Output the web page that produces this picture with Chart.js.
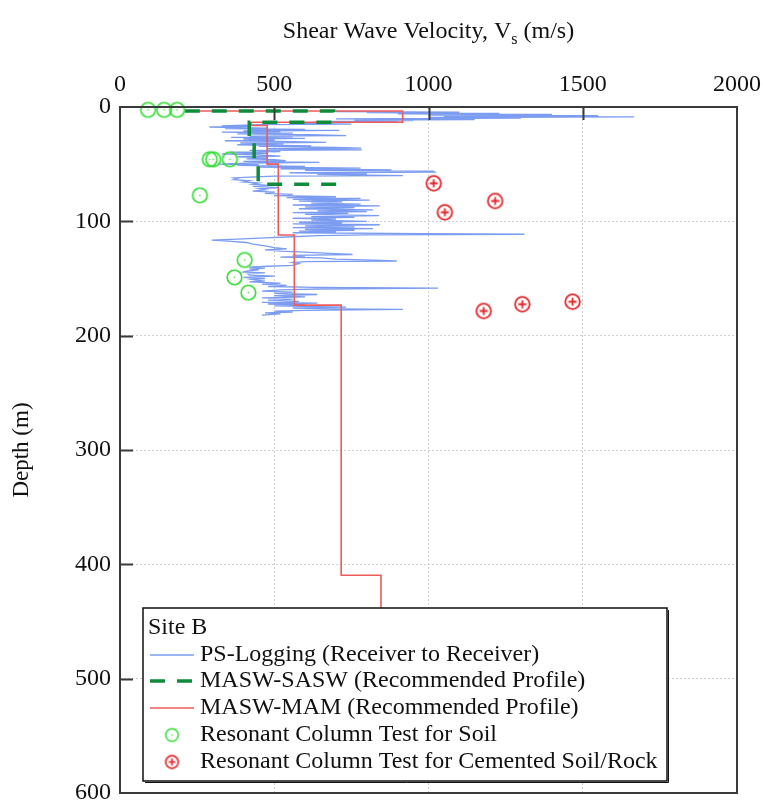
<!DOCTYPE html>
<html>
<head>
<meta charset="utf-8">
<script src="https://cdn.jsdelivr.net/npm/chart.js@4.4.0/dist/chart.umd.min.js"></script>
<style>
    html, body { margin: 0; padding: 0; background: #ffffff; }
    #wrap { width: 763px; height: 804px; position: relative; }
</style>
</head>
<body>
<div id="wrap"><canvas id="vsChart"></canvas></div>
<script>
// ---- data (depth in m, Vs in m/s) ----
const xTicks = [0, 500, 1000, 1500, 2000];
const yTicks = [0, 100, 200, 300, 400, 500, 600];

const psDepth = [4, 4.5, 5, 5.5, 6, 6.5, 7, 7.5, 8, 8.7, 9.2, 9.8, 10.3, 11, 11.5, 12, 12.5, 13, 13.5, 14.2,
    15, 15.5, 16.5, 17, 17.5, 18, 18.5, 19, 19.5, 20, 20.5, 21, 21.5, 22, 22.8, 23.5, 24.2, 25, 25.5, 26,
    26.5, 27.5, 28, 29, 29.5, 30.3, 31, 31.5, 32.3, 33, 34, 34.5, 35.3, 36, 36.5, 37.5, 38, 39, 39.5, 40.5,
    41, 42, 43, 43.5, 44.5, 45.3, 46, 47, 47.6, 48.5, 49, 50, 50.5, 51, 52, 52.5, 53.5, 54, 55, 55.5,
    56, 57, 57.5, 58.5, 59, 60, 60.5, 61.3, 62, 62.8, 63.6, 64.5, 65.5, 66.5, 67.5, 68.5, 69.5, 70.5, 71.5, 72.5,
    73.5, 74.5, 75.5, 76.5, 77.5, 78.5, 79.3, 80, 80.8, 81.5, 82.3, 83, 84, 85, 85.7, 86.5, 87.3, 88, 89, 90,
    90.8, 91.5, 92.3, 93, 94, 95, 95.8, 96.5, 97.3, 98, 99, 100, 100.8, 101.5, 102.3, 103, 104, 104.8, 105.5, 106.3,
    107, 107.8, 108.5, 109.3, 110, 110.8, 111.3, 111.8, 112.5, 113.5, 114.5, 115.5, 116.5, 117.3, 118.5, 120, 121.5, 123, 124, 125,
    126, 127, 128, 129, 129.7, 130.5, 131.3, 132, 133, 134, 134.7, 135.3, 136, 137, 138.5, 139.3, 140, 141, 141.8, 142.5,
    143.5, 144.3, 145, 146, 147, 148, 149, 150, 150.7, 151.5, 152.3, 153, 154, 155, 156, 157, 157.8, 158.5, 159.2, 160,
    161, 162, 163, 164, 165, 166, 167, 168, 169, 170, 170.8, 171.5, 172.3, 173, 174, 175, 175.8, 176.5, 177, 177.8,
    178.5, 179.3, 180, 181, 182];
const psVs = [700, 1100, 800, 1230, 900, 1400, 1000, 1550, 1050, 1667, 1000, 1300, 700, 1150, 760, 950, 680, 900, 640, 560,
    750, 450, 330, 420, 290, 380, 480, 340, 600, 420, 711, 400, 520, 330, 560, 380, 620, 733, 420, 560,
    360, 600, 400, 500, 340, 560, 668, 390, 530, 380, 620, 450, 700, 782, 480, 784, 420, 520, 360, 480,
    330, 450, 520, 380, 480, 410, 500, 537, 400, 646, 430, 320, 450, 380, 600, 450, 780, 520, 880, 600,
    1015, 1021, 550, 800, 640, 917, 500, 420, 369, 380, 369, 420, 400, 450, 430, 480, 430, 515, 450, 470,
    430, 500, 470, 560, 500, 700, 540, 780, 560, 809, 580, 720, 620, 780, 560, 842, 600, 760, 580, 820,
    640, 800, 560, 740, 600, 840, 620, 760, 560, 700, 620, 800, 580, 720, 560, 842, 600, 760, 560, 820,
    600, 760, 580, 700, 560, 980, 1311, 800, 640, 560, 470, 380, 297, 350, 410, 430, 470, 500, 540, 470,
    520, 600, 680, 754, 560, 600, 520, 650, 700, 820, 897, 600, 560, 580, 560, 480, 418, 470, 420, 450,
    410, 400, 470, 415, 420, 500, 400, 470, 425, 440, 470, 420, 520, 460, 540, 480, 640, 1031, 640, 520,
    460, 560, 500, 640, 500, 600, 460, 560, 480, 580, 460, 640, 480, 600, 500, 733, 560, 700, 917, 600,
    500, 560, 470, 520, 460];

const saswDepth = [3.5, 3.5, 13.3, 13.3, 30, 30, 50, 50, 67.5, 67.5];
const saswVs = [210, 692, 692, 419, 419, 435, 435, 448, 448, 717];

const mamDepth = [3.5, 3.5, 13.4, 13.4, 16.2, 16.2, 50, 50, 112, 112, 173.3, 173.3, 409.5, 409.5, 470];
const mamVs = [214, 916, 916, 425, 425, 477, 477, 513, 513, 565, 565, 717, 717, 846, 846];

const soilDepth = [2.5, 2.5, 2.5, 45.7, 45.7, 45.7, 77.2, 133.8, 149, 162.4];
const soilVs = [91, 143, 185, 291, 302, 356, 259, 404, 371, 416];

const rockDepth = [66.7, 82.2, 92.1, 178.4, 172.5, 170.3];
const rockVs = [1017, 1216, 1053, 1179, 1304, 1467];

const FONT = "'Liberation Serif', 'Times New Roman', serif";
const GREEN_DASH = '#0e8c3c';
const SOIL_GREEN = '#2fdc2f';
const ROCK_RED = '#e3262b';

function toPoints(vs, depth) {
    return depth.map((d, i) => ({ x: vs[i], y: d }));
}

// circle marker drawn once, handed to Chart.js as pointStyle
function makeMarker(color, withPlus, r, lw) {
    const size = Math.ceil(2 * r + lw + 2);
    const c = document.createElement('canvas');
    c.width = size;
    c.height = size;
    const g = c.getContext('2d');
    const m = size / 2;
    g.strokeStyle = color;
    g.fillStyle = color;
    g.lineWidth = lw;
    g.beginPath();
    g.arc(m, m, r, 0, Math.PI * 2);
    g.stroke();
    if (withPlus) {
        const a = r * 0.55;
        g.beginPath();
        g.moveTo(m - a, m); g.lineTo(m + a, m);
        g.moveTo(m, m - a); g.lineTo(m, m + a);
        g.stroke();
    } else {
        g.beginPath();
        g.arc(m, m, 0.8, 0, Math.PI * 2);
        g.fill();
    }
    return c;
}

const soilMarker = makeMarker(SOIL_GREEN, false, 7.3, 1.6);
const rockMarker = makeMarker(ROCK_RED, true, 7.3, 1.8);
const soilLegendMarker = makeMarker(SOIL_GREEN, false, 6.3, 1.5);
const rockLegendMarker = makeMarker(ROCK_RED, true, 6.3, 1.7);

// frame, inward ticks, titles and the boxed legend
const framePlugin = {
    id: 'frameAndLegend',
    afterDatasetsDraw(chart) {
        const ctx = chart.ctx;
        const area = chart.chartArea;
        const xs = chart.scales.x;
        const ys = chart.scales.y;
        ctx.save();

        // inward tick marks
        ctx.strokeStyle = '#3a3a3a';
        ctx.lineWidth = 2;
        ctx.beginPath();
        xTicks.slice(1, -1).forEach(v => {
            const px = Math.round(xs.getPixelForValue(v)) + 0.5;
            ctx.moveTo(px, area.top);
            ctx.lineTo(px, area.top + 13);
        });
        yTicks.slice(1, -1).forEach(v => {
            const py = Math.round(ys.getPixelForValue(v)) + 0.5;
            ctx.moveTo(area.left, py);
            ctx.lineTo(area.left + 13, py);
        });
        ctx.stroke();

        // plot frame
        ctx.lineWidth = 2;
        ctx.strokeRect(area.left, area.top, area.right - area.left, area.bottom - area.top);

        // legend box
        const lx = 143, ly = 608, lw = 524, lh = 173;
        ctx.fillStyle = '#ffffff';
        ctx.fillRect(lx, ly, lw, lh);
        ctx.strokeStyle = '#111111';
        ctx.lineWidth = 1.5;
        ctx.strokeRect(lx, ly, lw, lh);
        ctx.lineWidth = 1;
        ctx.beginPath();
        ctx.moveTo(lx + lw + 1.5, ly + 2);
        ctx.lineTo(lx + lw + 1.5, ly + lh + 1.5);
        ctx.lineTo(lx + 2, ly + lh + 1.5);
        ctx.stroke();

        ctx.fillStyle = '#111111';
        ctx.font = '24px ' + FONT;
        ctx.textBaseline = 'middle';
        ctx.textAlign = 'left';
        ctx.fillText('Site B', 148, 628);

        const rowY = [655, 681, 708, 735, 762];
        const sets = chart.data.datasets;
        sets.forEach((ds, i) => {
            const y = rowY[i];
            if (ds.showLine) {
                ctx.save();
                ctx.strokeStyle = ds.borderColor;
                ctx.lineWidth = ds.borderWidth;
                ctx.setLineDash(ds.borderDash || []);
                ctx.beginPath();
                ctx.moveTo(150, y);
                ctx.lineTo(194, y);
                ctx.stroke();
                ctx.restore();
            } else {
                const img = ds.legendMarker;
                ctx.drawImage(img, 172 - img.width / 2, y - img.height / 2);
            }
            ctx.fillStyle = '#111111';
            ctx.fillText(ds.label, 200, y);
        });
        ctx.restore();
    },
    afterDraw(chart) {
        const ctx = chart.ctx;
        const area = chart.chartArea;
        ctx.save();
        ctx.fillStyle = '#111111';
        ctx.textBaseline = 'middle';

        // top axis title with subscript
        const big = '24px ' + FONT;
        const small = '16px ' + FONT;
        const p1 = 'Shear Wave Velocity, V';
        const p2 = 's';
        const p3 = ' (m/s)';
        ctx.font = big;
        const w1 = ctx.measureText(p1).width;
        const w3 = ctx.measureText(p3).width;
        ctx.font = small;
        const w2 = ctx.measureText(p2).width;
        let x = (area.left + area.right) / 2 - (w1 + w2 + w3) / 2;
        const ty = 32;
        ctx.textAlign = 'left';
        ctx.font = big;
        ctx.fillText(p1, x, ty);
        x += w1;
        ctx.font = small;
        ctx.fillText(p2, x, ty + 8);
        x += w2;
        ctx.font = big;
        ctx.fillText(p3, x, ty);

        // left axis title
        ctx.translate(22, (area.top + area.bottom) / 2);
        ctx.rotate(-Math.PI / 2);
        ctx.textAlign = 'center';
        ctx.font = '23px ' + FONT;
        ctx.fillText('Depth (m)', 0, 0);
        ctx.restore();
    }
};

function renderVsProfileChart() {
    const ctx = document.getElementById('vsChart');

    window.vsChart = new Chart(ctx, {
        type: 'scatter',
        data: {
            datasets: [
                {
                    label: 'PS-Logging (Receiver to Receiver)',
                    data: toPoints(psVs, psDepth),
                    showLine: true,
                    borderColor: '#7b9cf0',
                    borderWidth: 1.3,
                    pointRadius: 0,
                    order: 5
                },
                {
                    label: 'MASW-SASW (Recommended Profile)',
                    data: toPoints(saswVs, saswDepth),
                    showLine: true,
                    borderColor: GREEN_DASH,
                    borderWidth: 3.5,
                    borderDash: [15, 12],
                    pointRadius: 0,
                    order: 3
                },
                {
                    label: 'MASW-MAM (Recommended Profile)',
                    data: toPoints(mamVs, mamDepth),
                    showLine: true,
                    borderColor: '#f05a5a',
                    borderWidth: 1.6,
                    pointRadius: 0,
                    order: 4
                },
                {
                    label: 'Resonant Column Test for Soil',
                    data: toPoints(soilVs, soilDepth),
                    showLine: false,
                    pointStyle: soilMarker,
                    legendMarker: soilLegendMarker,
                    pointRadius: 8,
                    clip: false,
                    order: 2
                },
                {
                    label: 'Resonant Column Test for Cemented Soil/Rock',
                    data: toPoints(rockVs, rockDepth),
                    showLine: false,
                    pointStyle: rockMarker,
                    legendMarker: rockLegendMarker,
                    pointRadius: 8,
                    clip: false,
                    order: 1
                }
            ]
        },
        plugins: [framePlugin],
        options: {
            responsive: true,
            maintainAspectRatio: false,
            animation: false,
            devicePixelRatio: 1,
            layout: {
                padding: { left: 0, top: 0, right: 26, bottom: 11 }
            },
            scales: {
                x: {
                    type: 'linear',
                    position: 'top',
                    min: 0,
                    max: 2000,
                    afterBuildTicks: (scale) => {
                        scale.ticks = xTicks.map(v => ({ value: v }));
                    },
                    afterFit: (scale) => {
                        scale.height = 107;
                        scale.paddingLeft = 0;
                        scale.paddingRight = 0;
                    },
                    ticks: {
                        color: '#111111',
                        padding: 8,
                        maxRotation: 0,
                        font: { family: FONT, size: 24 },
                        callback: (value) => String(value)
                    },
                    grid: {
                        color: '#cfcfcf',
                        lineWidth: 1,
                        drawTicks: false
                    },
                    border: { display: false, dash: [2, 2] }
                },
                y: {
                    type: 'linear',
                    reverse: true,
                    min: 0,
                    max: 600,
                    afterBuildTicks: (scale) => {
                        scale.ticks = yTicks.map(v => ({ value: v }));
                    },
                    afterFit: (scale) => {
                        scale.width = 120;
                        scale.paddingTop = 0;
                        scale.paddingBottom = 0;
                    },
                    ticks: {
                        color: '#111111',
                        padding: 9,
                        font: { family: FONT, size: 24 },
                        callback: (value) => String(value)
                    },
                    grid: {
                        color: '#cfcfcf',
                        lineWidth: 1,
                        drawTicks: false
                    },
                    border: { display: false, dash: [2, 2] }
                }
            },
            plugins: {
                legend: { display: false },
                title: { display: false },
                tooltip: { enabled: false }
            }
        }
    });
}

renderVsProfileChart();
</script>
</body>
</html>
